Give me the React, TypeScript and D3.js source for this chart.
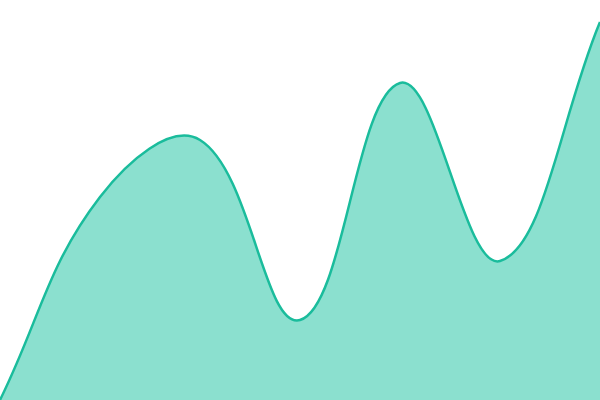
import { useEffect, useRef } from 'react';
import * as d3 from 'd3';

const positions = [0, 1, 2, 3, 4, 5, 6];
const values = [0, 50.75, 65, 20, 79.25, 34.75, 94.5];

const width = 600;
const height = 400;
const tension = 0.4;

type Pt = [number, number];

// distance-weighted spline, same interface as d3's curve factories
function splineCurve(t: number) {
  return (context: any) => {
    let pts: Pt[] = [];
    let line = NaN;
    return {
      areaStart() {
        line = 0;
      },
      areaEnd() {
        line = NaN;
      },
      lineStart() {
        pts = [];
      },
      lineEnd() {
        const n = pts.length;
        if (n) {
          if (line) context.lineTo(pts[0][0], pts[0][1]);
          else context.moveTo(pts[0][0], pts[0][1]);
          const cps = pts.map((cur, i) => {
            const prev = pts[Math.max(i - 1, 0)];
            const next = pts[Math.min(i + 1, n - 1)];
            const d01 = Math.hypot(cur[0] - prev[0], cur[1] - prev[1]);
            const d12 = Math.hypot(next[0] - cur[0], next[1] - cur[1]);
            let s01 = d01 / (d01 + d12);
            let s12 = d12 / (d01 + d12);
            if (!isFinite(s01)) s01 = 0;
            if (!isFinite(s12)) s12 = 0;
            const fa = t * s01;
            const fb = t * s12;
            return {
              before: [cur[0] - fa * (next[0] - prev[0]), cur[1] - fa * (next[1] - prev[1])] as Pt,
              after: [cur[0] + fb * (next[0] - prev[0]), cur[1] + fb * (next[1] - prev[1])] as Pt,
            };
          });
          for (let i = 0; i < n - 1; i++) {
            const a = cps[i].after;
            const b = cps[i + 1].before;
            context.bezierCurveTo(a[0], a[1], b[0], b[1], pts[i + 1][0], pts[i + 1][1]);
          }
        }
        if (line || (line !== 0 && n === 1)) context.closePath();
        line = 1 - line;
      },
      point(x: number, y: number) {
        pts.push([x, y]);
      },
    };
  };
}

export default function App() {
  const svgRef = useRef<SVGSVGElement>(null);

  useEffect(() => {
    if (!svgRef.current) return;
    const svg = d3.select(svgRef.current);
    svg.selectAll('*').remove();

    const data = positions.map((p, i) => ({ x: p, y: values[i] }));

    const x = d3.scaleLinear().domain([0, 6]).range([0, width]);
    const y = d3.scaleLinear().domain([0, 100]).range([height, 0]);

    const curve = splineCurve(tension) as any;

    const area = d3
      .area<{ x: number; y: number }>()
      .x((d) => x(d.x))
      .y0(height)
      .y1((d) => y(d.y))
      .curve(curve);

    const line = d3
      .line<{ x: number; y: number }>()
      .x((d) => x(d.x))
      .y((d) => y(d.y))
      .curve(curve);

    svg.append('path').attr('d', area(data)).attr('fill', '#8be0cf');
    svg
      .append('path')
      .attr('d', line(data))
      .attr('fill', 'none')
      .attr('stroke', '#1abc9c')
      .attr('stroke-width', 2.5);
  }, []);

  return (
    <svg
      ref={svgRef}
      width={width}
      height={height}
      style={{ position: 'fixed', top: 0, left: 0, display: 'block' }}
    />
  );
}
